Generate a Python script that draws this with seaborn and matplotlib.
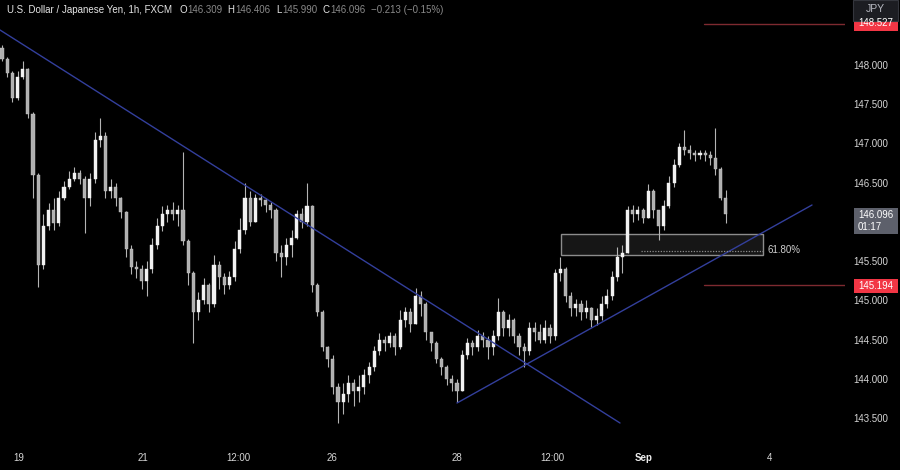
import matplotlib
matplotlib.use("Agg")
import matplotlib.pyplot as plt
from matplotlib.patches import Rectangle
import numpy as np
import pandas as pd
import seaborn as sns

first_open = 148.22
closes = [148.08, 147.90, 147.58, 147.85, 147.95, 147.38, 146.60, 145.45, 145.95, 146.15,
          145.98, 146.30, 146.45, 146.55, 146.62, 146.55, 146.30, 146.55, 147.05, 147.10,
          146.40, 146.45, 146.30, 146.12, 145.65, 145.42, 145.40, 145.25, 145.40, 145.70,
          145.95, 146.10, 146.15, 146.10, 146.15, 145.75, 145.35, 144.85, 145.00, 145.20,
          144.95, 145.45, 145.30, 145.20, 145.30, 145.65, 145.90, 146.30, 146.00, 146.30,
          146.28, 146.22, 146.15, 145.60, 145.55, 145.70, 145.80, 146.10, 146.00, 146.20,
          145.20, 144.85, 144.40, 144.25, 143.90, 143.70, 143.80, 143.95, 143.85, 143.90,
          144.05, 144.15, 144.35, 144.50, 144.45, 144.55, 144.40, 144.75, 144.85, 144.70,
          145.05, 144.95, 144.60, 144.45, 144.25, 144.15, 144.00, 143.95, 143.85, 144.30,
          144.45, 144.40, 144.55, 144.50, 144.40, 144.55, 144.85, 144.65, 144.75, 144.55,
          144.40, 144.35, 144.65, 144.60, 144.50, 144.65, 144.55, 145.35, 145.40, 145.05,
          144.90, 144.95, 144.85, 144.90, 144.75, 144.80, 144.95, 145.05, 145.30, 145.55,
          145.60, 146.15, 146.10, 146.15, 146.05, 146.40, 146.15, 145.95, 146.20, 146.50,
          146.72, 146.95, 146.92, 146.88, 146.85, 146.88, 146.85, 146.82, 146.68, 146.31,
          146.096]
highs = [148.26, 148.10, 147.92, 147.92, 148.05, 147.96, 147.40, 146.62, 146.10, 146.24,
         146.30, 146.40, 146.52, 146.65, 146.70, 146.66, 146.58, 146.62, 147.15, 147.32,
         147.15, 146.55, 146.50, 146.32, 146.14, 145.70, 145.50, 145.45, 145.50, 145.80,
         146.05, 146.20, 146.22, 146.25, 146.22, 146.89, 145.78, 145.38, 145.10, 145.28,
         145.22, 145.58, 145.50, 145.35, 145.38, 145.75, 146.05, 146.50, 146.40, 146.36,
         146.35, 146.30, 146.25, 146.18, 145.70, 145.80, 145.90, 146.15, 146.18, 146.50,
         146.22, 145.22, 144.88, 144.42, 144.30, 143.95, 143.95, 144.05, 144.00, 144.05,
         144.12, 144.22, 144.42, 144.58, 144.55, 144.60, 144.58, 144.88, 144.92, 144.90,
         145.16, 145.12, 144.98, 144.60, 144.48, 144.28, 144.18, 144.05, 144.00, 144.37,
         144.52, 144.50, 144.62, 144.60, 144.55, 144.62, 145.03, 144.88, 144.82, 144.78,
         144.58, 144.45, 144.72, 144.72, 144.70, 144.75, 144.70, 145.40, 145.55, 145.42,
         145.10, 145.02, 145.00, 145.00, 144.92, 144.90, 145.05, 145.15, 145.38, 145.68,
         145.70, 146.20, 146.22, 146.20, 146.18, 146.48, 146.42, 146.15, 146.28, 146.58,
         146.80, 147.00, 147.17, 146.98, 146.92, 146.92, 146.92, 146.90, 147.20, 146.70,
         146.406]
lows = [148.05, 147.85, 147.53, 147.55, 147.82, 147.32, 146.30, 145.17, 145.40, 145.90,
        145.90, 145.95, 146.28, 146.42, 146.52, 146.48, 145.86, 146.20, 146.50, 146.95,
        146.30, 146.30, 146.20, 146.05, 145.55, 145.33, 145.28, 145.15, 145.05, 145.35,
        145.65, 145.88, 146.00, 146.02, 145.95, 145.70, 145.20, 144.46, 144.75, 144.95,
        144.85, 144.92, 145.15, 145.08, 145.15, 145.25, 145.60, 145.85, 145.95, 146.00,
        146.20, 146.12, 146.05, 145.50, 145.30, 145.45, 145.55, 145.78, 145.92, 145.95,
        145.10, 144.80, 144.35, 144.15, 143.80, 143.44, 143.55, 143.70, 143.65, 143.70,
        143.80, 143.95, 144.10, 144.30, 144.35, 144.40, 144.30, 144.38, 144.66, 144.60,
        144.70, 144.80, 144.50, 144.35, 144.20, 144.05, 143.92, 143.85, 143.70, 143.85,
        144.25, 144.30, 144.35, 144.40, 144.25, 144.30, 144.50, 144.55, 144.55, 144.45,
        144.30, 144.15, 144.30, 144.48, 144.45, 144.45, 144.45, 144.50, 145.25, 144.98,
        144.80, 144.80, 144.75, 144.78, 144.66, 144.68, 144.75, 144.90, 145.00, 145.25,
        145.35, 145.60, 146.00, 146.02, 145.98, 146.05, 146.05, 145.77, 145.90, 146.18,
        146.45, 146.70, 146.85, 146.80, 146.78, 146.80, 146.78, 146.72, 146.60, 146.28,
        145.99]

# 146.000 sits under the last-price box in the original, so it is left out
price_ticks = [143.5, 144.0, 144.5, 145.0, 145.5, 146.5, 147.0, 147.5, 148.0]
time_labels = ["19", "21", "12:00", "26", "28", "12:00", "Sep", "4"]
last_price = 146.096
level_red = 145.194
level_top = 148.527
fib_label = "61.80%"
header_title = "U.S. Dollar / Japanese Yen, 1h, FXCM"
header_ohlc = [("O", "146.309"), ("H", "146.406"), ("L", "145.990"), ("C", "146.096")]
header_change = "\u22120.213 (\u22120.15%)"

opens = [first_open] + closes[:-1]
df = pd.DataFrame({"o": opens, "h": highs, "l": lows, "c": closes})
df["i"] = np.arange(len(df))
df["up"] = df["c"] >= df["o"]

sns.set_theme(style="dark")
plt.rcParams["font.family"] = ["Liberation Sans", "DejaVu Sans"]

W, H = 900, 470
fig = plt.figure(figsize=(W / 100, H / 100), dpi=100, facecolor="black")
ax = fig.add_axes([0, 25 / H, 845 / W, 445 / H])
ax.set_facecolor("black")
ax.grid(False)
for s in ax.spines.values():
    s.set_visible(False)


def px_to_x(x):
    return (x - 2) / 5.17


def px_to_y(y):
    return 148.0 - (y - 65) / 78.44


# candles
wick_col = "#b4b4b4"
top = np.maximum(df[["o", "c"]].max(axis=1), df["h"])
bot = np.minimum(df[["o", "c"]].min(axis=1), df["l"])
ax.vlines(df["i"], bot, top, color=wick_col, lw=0.8, zorder=3)
body_h = np.maximum((df["c"] - df["o"]).abs(), 0.012)
body_b = df[["o", "c"]].min(axis=1)
ax.bar(df["i"][df["up"]], body_h[df["up"]], bottom=body_b[df["up"]], width=0.6,
       color="#f2f2f2", edgecolor="#f2f2f2", lw=0.3, zorder=4)
ax.bar(df["i"][~df["up"]], body_h[~df["up"]], bottom=body_b[~df["up"]], width=0.6,
       color="#b0b0b0", edgecolor="#c8c8c8", lw=0.3, zorder=4)

# trendlines
trend_col = "#333f9c"
down = pd.DataFrame({"x": [px_to_x(0), px_to_x(620)], "y": [px_to_y(30), px_to_y(423)]})
upl = pd.DataFrame({"x": [px_to_x(457), px_to_x(812)], "y": [px_to_y(403), px_to_y(205)]})
sns.lineplot(data=down, x="x", y="y", ax=ax, color=trend_col, lw=1.0, zorder=5)
sns.lineplot(data=upl, x="x", y="y", ax=ax, color=trend_col, lw=1.0, zorder=5)
ax.set_xlabel("")
ax.set_ylabel("")

# fib zone
x0, x1 = px_to_x(561), px_to_x(763)
y0, y1 = px_to_y(255), px_to_y(234)
ax.add_patch(Rectangle((x0, y0), x1 - x0, y1 - y0, facecolor="#161616",
                       edgecolor="#8c8c8c", lw=1.0, zorder=2))
ax.plot([px_to_x(641), x1], [px_to_y(251)] * 2, color="#8c8c8c", lw=0.9,
        ls=(0, (1, 1.2)), zorder=6)
ax.text(px_to_x(768), px_to_y(250), fib_label, color="#cfcfcf", fontsize=7,
        va="center", ha="left", zorder=7)

# horizontal red levels
red_line = "#7e2a30"
ax.axhline(level_red, xmin=704 / 845, xmax=1, color=red_line, lw=1.0, zorder=2)
ax.axhline(level_top, xmin=704 / 845, xmax=1, color=red_line, lw=1.0, zorder=2)

ax.set_xlim(px_to_x(0), px_to_x(845))
ax.set_ylim(px_to_y(445), px_to_y(0))

ax.yaxis.tick_right()
ax.set_yticks(price_ticks)
ax.set_yticklabels([f"{v:.3f}" for v in price_ticks])
ax.tick_params(axis="y", length=0, pad=6, labelsize=7, labelcolor="#d6d6d6")
ax.set_xticks([px_to_x(p) for p in [19, 143, 238, 332, 457, 552, 644, 770]])
ax.set_xticklabels(time_labels)
ax.tick_params(axis="x", length=0, pad=6, labelsize=7, labelcolor="#d6d6d6")
for lab in ax.get_xticklabels():
    if lab.get_text() == "Sep":
        lab.set_fontweight("bold")
        lab.set_color("#ececec")


def fbox(x, y, w, h, **kw):
    fig.add_artist(Rectangle((x / W, 1 - (y + h) / H), w / W, h / H,
                             transform=fig.transFigure, **kw))


def ftext(x, y, s, **kw):
    return fig.text(x / W, 1 - y / H, s, va="center", **kw)


# price-axis labels
fbox(854, 208, 44, 26, facecolor="#5d606b", edgecolor="none")
ftext(858, 215, f"{last_price:.3f}", color="white", fontsize=7)
ftext(858, 227, "01:17", color="white", fontsize=7)
fbox(854, 279, 44, 14, facecolor="#f23645", edgecolor="none")
ftext(858, 286, f"{level_red:.3f}", color="white", fontsize=7)
fbox(854, 17, 44, 14, facecolor="#f23645", edgecolor="none")
ftext(858, 23, f"{level_top:.3f}", color="white", fontsize=7)
fbox(853, 0, 45, 21, facecolor="#1c1d22", edgecolor="#34363d", lw=0.8)
ftext(875.5, 9.5, "JPY", color="#b8bac2", fontsize=7.5, ha="center")

# header, laid out left to right from measured text widths
hdr = 10
grey = "#8a8a8a"
renderer = fig.canvas.get_renderer()


def put(x, s, color, gap):
    t = ftext(x, hdr, s, color=color, fontsize=7)
    return x + t.get_window_extent(renderer).width + gap


cur = put(7, header_title, "#e6e6e6", 7)
for letter, val in header_ohlc:
    cur = put(cur, letter, "#e6e6e6", 1)
    cur = put(cur, val, grey, 5)
put(cur, header_change, grey, 0)

fig.savefig("out.png", dpi=100, facecolor="black")
